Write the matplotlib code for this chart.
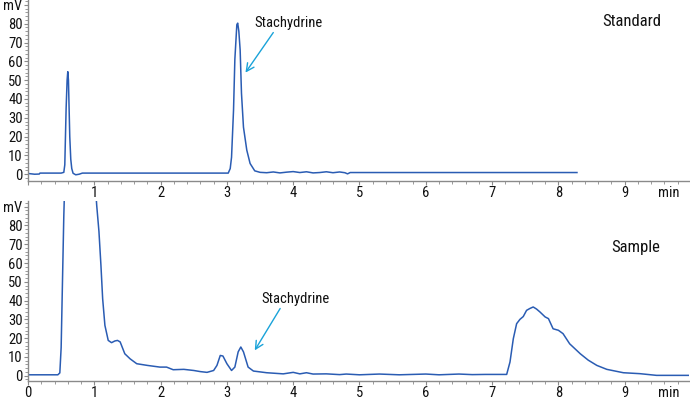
import matplotlib
matplotlib.use("Agg")
import matplotlib.pyplot as plt
from matplotlib.ticker import MultipleLocator

plt.rcParams['font.family'] = ['Roboto Condensed', 'DejaVu Sans']
plt.rcParams['font.stretch'] = 'condensed'

# Standard chromatogram (time in min, signal in mV)
std_t = [0.00, 0.10, 0.17, 0.18, 0.50, 0.54, 0.555, 0.565, 0.575, 0.59, 0.60, 0.61,
         0.62, 0.63, 0.645, 0.66, 0.68, 0.72, 0.77, 0.82, 2.95, 3.02, 3.05, 3.07,
         3.10, 3.12, 3.15, 3.163, 3.18, 3.20, 3.22, 3.25, 3.30, 3.35, 3.42, 3.50,
         3.60, 3.70, 3.80, 3.90, 4.00, 4.10, 4.20, 4.30, 4.40, 4.50, 4.60, 4.70,
         4.78, 4.82, 4.86, 5.00, 8.28]
std_v = [0.4, 0.0, 0.1, 0.6, 0.6, 1.0, 5, 20, 35, 50, 54.5, 50,
         35, 20, 8, 3, 0.5, -0.3, 0.0, 0.6, 0.6, 0.6, 3, 9,
         34, 61, 79.5, 80.3, 76, 66, 43, 25, 12.8, 5.7, 1.8, 1.0,
         0.8, 1.2, 0.7, 1.1, 1.4, 0.9, 1.3, 0.7, 0.9, 1.3, 0.8, 1.2,
         0.8, 0.2, 0.9, 0.9, 0.9]

# Sample chromatogram
smp_t = [0.00, 0.45, 0.48, 0.50, 0.52, 0.54, 0.56, 1.00, 1.036, 1.07, 1.10, 1.126,
         1.16, 1.21, 1.26, 1.31, 1.35, 1.39, 1.46, 1.54, 1.64, 1.80, 1.99, 2.09,
         2.19, 2.35, 2.50, 2.60, 2.70, 2.80, 2.85, 2.90, 2.94, 3.00, 3.07, 3.12,
         3.17, 3.21, 3.25, 3.32, 3.40, 3.60, 3.85, 4.00, 4.10, 4.20, 4.30, 4.50,
         4.70, 4.80, 5.00, 5.30, 5.60, 6.00, 6.20, 6.50, 6.70, 6.90, 7.22, 7.27,
         7.32, 7.37, 7.42, 7.47, 7.52, 7.57, 7.62, 7.67, 7.72, 7.80, 7.85, 7.92,
         8.00, 8.07, 8.17, 8.33, 8.45, 8.58, 8.73, 8.98, 9.23, 9.48, 9.97]
smp_v = [0.5, 0.5, 1.5, 15, 50, 85, 110, 110, 90.8, 76.8, 58.8, 41,
         26.8, 18.8, 17.6, 18.5, 18.8, 18, 11.7, 9, 6.4, 5.5, 4.6, 4.6,
         3.2, 3.4, 2.8, 2.2, 1.8, 2.8, 5.5, 10.8, 10.5, 6.4, 2.8, 4.6,
         12.7, 15.3, 12.7, 4.6, 2.5, 1.6, 1.0, 1.8, 1.0, 1.6, 0.9, 1.0,
         0.6, 0.9, 0.5, 0.9, 0.5, 0.9, 0.5, 0.9, 0.6, 0.7, 0.7, 7.3,
         19.7, 27.7, 30, 31.5, 34.8, 35.8, 36.6, 35.5, 34, 31.3, 30.4, 25,
         24.2, 22.4, 17, 11.7, 8.3, 5.5, 3.4, 1.6, 1.1, 0.2, 0.2]

x_ticks = [0, 1, 2, 3, 4, 5, 6, 7, 8, 9]
y_ticks = [0, 10, 20, 30, 40, 50, 60, 70, 80, 90]
y_labels = ['0', '10', '20', '30', '40', '50', '60', '70', '80', 'mV']

line_color = '#2a5cb3'
arrow_color = '#1aa3d9'
axis_color = '#8a8a8a'
text_color = '#111111'
tick_fs = 10.5

fig = plt.figure(figsize=(6.9, 3.99), dpi=100)
ax1 = fig.add_axes([28/690, 1-181/399, 661/690, 181/399])
ax2 = fig.add_axes([28/690, 1-381/399, 661/690, (381-201)/399])

for ax, t, v, show0, ylim in [(ax1, std_t, std_v, False, (-3.6, 92.6)),
                              (ax2, smp_t, smp_v, True, (-2.8, 93.0))]:
    ax.plot(t, v, color=line_color, lw=1.1, solid_joinstyle='round')
    ax.set_xlim(0, 9.97)
    ax.set_ylim(*ylim)
    for s in ['top', 'right']:
        ax.spines[s].set_visible(False)
    for s in ['left', 'bottom']:
        ax.spines[s].set_color(axis_color)
        ax.spines[s].set_linewidth(1.0)
    ax.set_xticks(x_ticks)
    ax.set_xticklabels([str(x) if (x != 0 or show0) else '' for x in x_ticks])
    ax.set_yticks(y_ticks)
    ax.set_yticklabels(y_labels)
    ax.xaxis.set_minor_locator(MultipleLocator(0.2))
    ax.yaxis.set_minor_locator(MultipleLocator(2))
    ax.tick_params(axis='both', which='major', length=3, width=0.8, color=axis_color,
                   labelsize=tick_fs, pad=0.8, labelcolor=text_color)
    ax.tick_params(axis='both', which='minor', length=2.0, width=0.6, color=axis_color)
    ax.annotate('min', xy=(9.67, 0), xycoords=('data', 'axes fraction'),
                xytext=(0, -3.8), textcoords='offset points',
                ha='center', va='top', fontsize=tick_fs, color=text_color)

# annotations
ax1.annotate('Stachydrine', xy=(3.28, 54), xytext=(3.42, 80.5), fontsize=10.5,
             va='center', ha='left', color=text_color,
             arrowprops=dict(arrowstyle='->', color=arrow_color, lw=1.0,
                             shrinkA=0, shrinkB=0, mutation_scale=14,
                             relpos=(0.3, 0.0)))
ax2.annotate('Stachydrine', xy=(3.42, 13.5), xytext=(3.52, 41), fontsize=10.5,
             va='center', ha='left', color=text_color,
             arrowprops=dict(arrowstyle='->', color=arrow_color, lw=1.0,
                             shrinkA=0, shrinkB=0, mutation_scale=14,
                             relpos=(0.3, 0.0)))
ax1.text(9.1, 81, 'Standard', fontsize=12, ha='center', va='center', color=text_color)
ax2.text(9.17, 68, 'Sample', fontsize=12, ha='center', va='center', color=text_color)

fig.savefig('out.png', dpi=100)
